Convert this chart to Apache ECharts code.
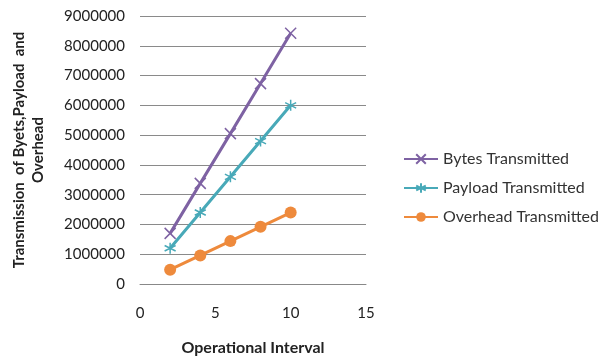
<!DOCTYPE html>
<html>
<head>
<meta charset="utf-8">
<script src="https://cdn.jsdelivr.net/npm/echarts@6/dist/echarts.min.js"></script>
<style>
  html, body { margin: 0; padding: 0; background: #fff; }
  #chart { width: 600px; height: 356px; }
</style>
</head>
<body>
<div id="chart"></div>
<script>
// Operational intervals and transmitted amounts per series
const intervals = [2, 4, 6, 8, 10];
const bytesTransmitted = [1700000, 3380000, 5050000, 6730000, 8420000];
const payloadTransmitted = [1200000, 2400000, 3600000, 4800000, 6000000];
const overheadTransmitted = [480000, 960000, 1440000, 1920000, 2400000];
const seriesNames = ['Bytes Transmitted', 'Payload Transmitted', 'Overhead Transmitted'];

const crossPath = 'path://M0,0L10,10M10,0L0,10';
const starPath = 'path://M5,0L5,10M0.7,2.5L9.3,7.5M9.3,2.5L0.7,7.5';

const font = 'Lato, "Open Sans", sans-serif';
const pairs = vals => intervals.map((x, i) => [x, vals[i]]);

const chart = echarts.init(document.getElementById('chart'));
chart.setOption({
  animation: false,
  backgroundColor: '#fff',
  grid: { left: 140, right: 234, top: 16, bottom: 72, outerBoundsMode: 'none', containLabel: false },
  legend: {
    orient: 'vertical',
    left: 398,
    top: 146,
    itemWidth: 34,
    itemHeight: 12,
    itemGap: 13,
    textStyle: { fontFamily: font, fontSize: 16, color: '#333' },
    data: seriesNames
  },
  xAxis: {
    type: 'value',
    min: 0, max: 15, interval: 5,
    name: 'Operational Interval',
    nameLocation: 'middle',
    nameGap: 56,
    nameTextStyle: { fontFamily: font, fontSize: 16, fontWeight: 'bold', color: '#222' },
    axisLine: { lineStyle: { color: '#888' } },
    axisTick: { show: false },
    splitLine: { show: false },
    axisLabel: { fontFamily: font, fontSize: 15, color: '#222', margin: 22 }
  },
  yAxis: {
    type: 'value',
    min: 0, max: 9000000, interval: 1000000,
    name: 'Transmission  of Byets,Payload  and\nOverhead',
    nameLocation: 'middle',
    nameRotate: 90,
    nameGap: 92,
    nameTextStyle: { fontFamily: font, fontSize: 15, fontWeight: 'bold', color: '#222', lineHeight: 19 },
    axisLine: { show: false },
    axisTick: { show: false },
    splitLine: { lineStyle: { color: '#8a8a8a', width: 1 } },
    axisLabel: { fontFamily: font, fontSize: 15, color: '#222', margin: 15, formatter: v => String(v) }
  },
  series: [
    {
      name: seriesNames[0], type: 'line', data: pairs(bytesTransmitted),
      color: '#7E62A3',
      lineStyle: { width: 3, color: '#7E62A3' },
      symbol: crossPath, symbolSize: 11,
      itemStyle: { color: 'none', borderColor: '#7E62A3', borderWidth: 1.5 }
    },
    {
      name: seriesNames[1], type: 'line', data: pairs(payloadTransmitted),
      color: '#48A9B8',
      lineStyle: { width: 3, color: '#48A9B8' },
      symbol: starPath, symbolSize: 11,
      itemStyle: { color: 'none', borderColor: '#48A9B8', borderWidth: 1.5 }
    },
    {
      name: seriesNames[2], type: 'line', data: pairs(overheadTransmitted),
      color: '#EE8A3C',
      lineStyle: { width: 3, color: '#EE8A3C' },
      symbol: 'circle', symbolSize: 12,
      itemStyle: { color: '#EE8A3C' }
    }
  ]
});
</script>
</body>
</html>
